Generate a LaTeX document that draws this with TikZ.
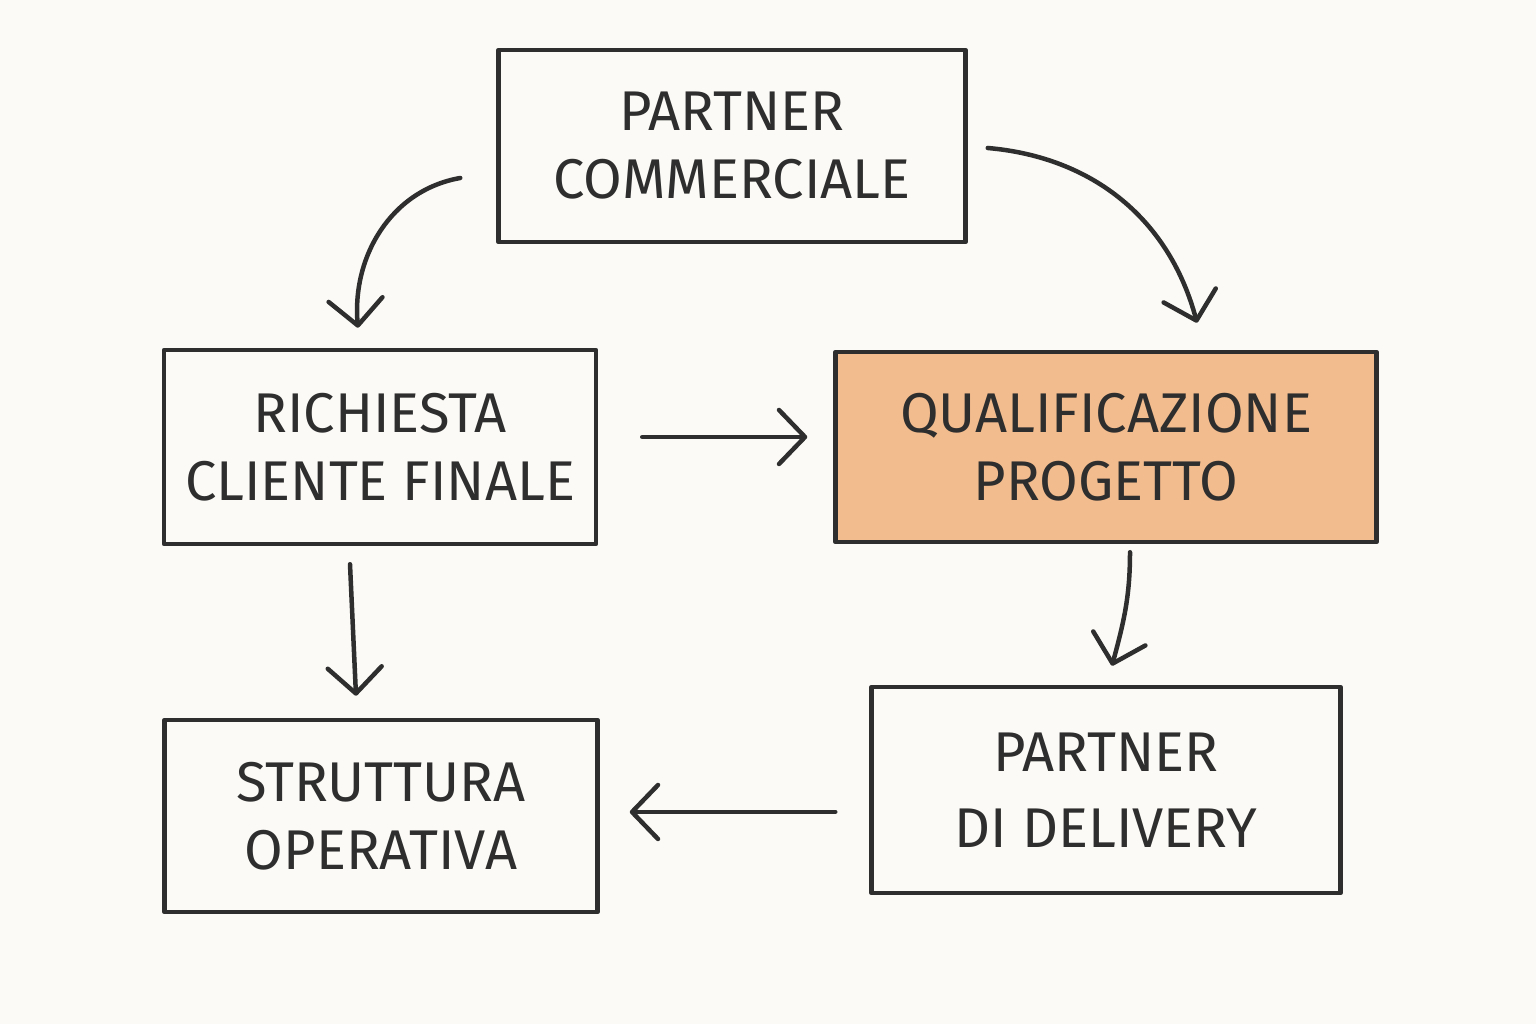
\documentclass[tikz,border=0pt]{standalone}
\usepackage{fontspec}
\setmainfont{Fira Sans}
\usetikzlibrary{arrows.meta,calc}
\definecolor{bg}{HTML}{FBFAF7}
\definecolor{ink}{HTML}{2E2E2E}
\definecolor{orangefill}{HTML}{F3BC8E}
\begin{document}
\begin{tikzpicture}[x=1pt,y=1pt,
  box/.style={draw=ink, line width=4.5pt, line join=round, inner sep=0pt, align=center, text=ink,
     font=\fontsize{56}{68}\selectfont},
  arr/.style={draw=ink, line width=4.5pt, line cap=round,
     -{Straight Barb[length=26pt,width=54pt,round,line width=4.5pt]}}]
\fill[bg] (0,0) rectangle (1536,1024);
\useasboundingbox (0,0) rectangle (1536,1024);

\node[box, minimum width=467pt, minimum height=192pt] (pc) at (732,878) {PARTNER\\COMMERCIALE};
\node[box, minimum width=432pt, minimum height=194pt] (rc) at (380,577) {RICHIESTA\\CLIENTE FINALE};
\node[box, fill=orangefill, minimum width=541pt, minimum height=190pt] (qp) at (1106,577) {QUALIFICAZIONE\\PROGETTO};
\node[box, minimum width=433pt, minimum height=192pt] (so) at (381,208) {STRUTTURA\\OPERATIVA};
\node[box, minimum width=469pt, minimum height=206pt, font=\fontsize{56}{76}\selectfont] (pd) at (1106,234) {PARTNER\\DI DELIVERY};

\draw[arr] ([shift={(-36,-32)}]pc.west) to[out=190,in=95] ([shift={(-22,20)}]rc.north);
\draw[arr] ([shift={(20,-2)}]pc.east) to[out=-5,in=105] ([shift={(91,27)}]qp.north);
\draw[arr] ([shift={(44,10)}]rc.east) -- ([shift={(-26,10)}]qp.west);
\draw[arr] ([shift={(24,-8)}]qp.south) to[out=-90,in=75] ([shift={(6,19)}]pd.north);
\draw[arr] ([shift={(-30,-18)}]rc.south) -- ([shift={(-25,22)}]so.north);
\draw[arr] ([shift={(-34,-22)}]pd.west) -- ([shift={(30,4)}]so.east);
\end{tikzpicture}
\end{document}
